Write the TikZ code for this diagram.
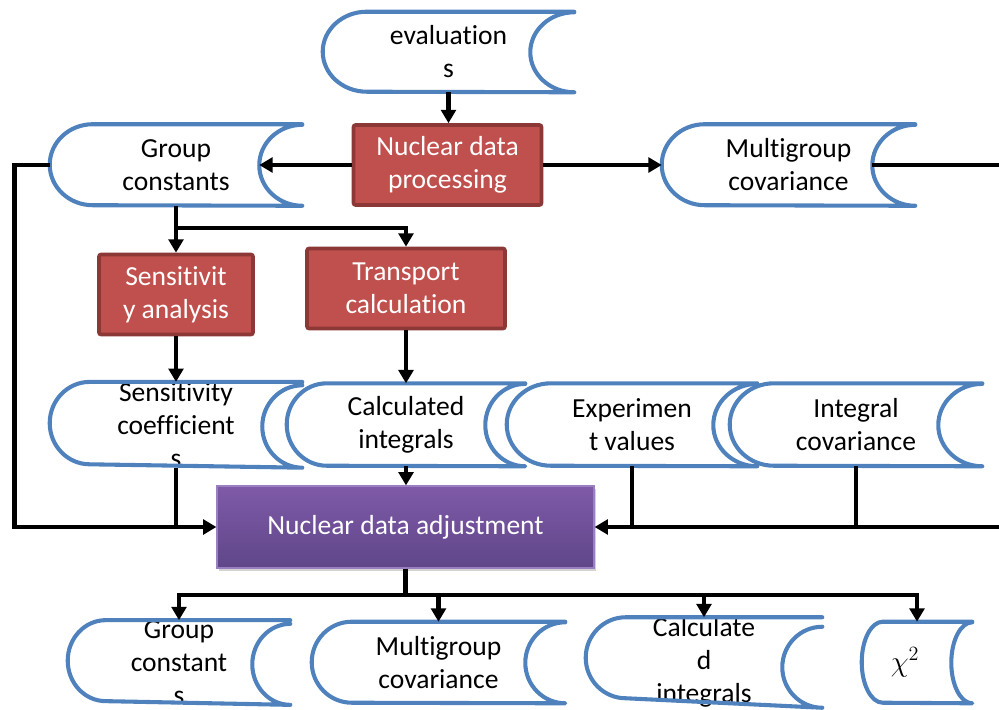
\documentclass[tikz,border=0pt]{standalone}
\usepackage{fontspec}
\setmainfont{Carlito}[Ligatures=NoCommon]
\usepackage{tikz}
\usetikzlibrary{arrows.meta,shadows}
\definecolor{hexcolor0x4f81bd}{rgb}{0.310,0.506,0.741}
\definecolor{hexcolor0xc0504d}{rgb}{0.753,0.314,0.302}
\definecolor{hexcolor0x8c3836}{rgb}{0.549,0.220,0.212}
\definecolor{hexcolor0x7f5aa8}{rgb}{0.498,0.353,0.659}
\definecolor{hexcolor0x5f4689}{rgb}{0.373,0.275,0.537}
\definecolor{hexcolor0x9a80c0}{rgb}{0.604,0.502,0.753}
\definecolor{myblack}{rgb}{0.000,0.000,0.000}
\definecolor{mywhite}{rgb}{1.000,1.000,1.000}
\tikzstyle{datastore}=[rectangle,inner sep=0pt,align=center,text=myblack]
\tikzstyle{storeline}=[draw=hexcolor0x4f81bd,line width=2.9pt,line cap=round,line join=round]
\tikzstyle{procbox}=[rectangle,fill=hexcolor0xc0504d,draw=hexcolor0x8c3836,line width=2.6pt,rounded corners=1.5pt,text=mywhite,align=center,inner sep=0pt]
\tikzstyle{adjbox}=[rectangle,top color=hexcolor0x7f5aa8,bottom color=hexcolor0x5f4689,draw=hexcolor0x9a80c0,line width=0.8pt,text=mywhite,align=center,inner sep=0pt,drop shadow={shadow xshift=0.06cm,shadow yshift=-0.08cm,opacity=0.35}]
\tikzstyle{wire}=[draw=myblack,line width=3.2pt]
\tikzstyle{flow}=[wire,-{Triangle[length=9.5pt,width=10.5pt]}]
% outline of a stored data shape: node, x radius, y radius
\newcommand{\storeoutline}[3]{%
	\draw [style=storeline] (#1.north east) -- ([xshift=#2]#1.north west)
		arc [start angle=90, delta angle=180, x radius=#2, y radius=#3]
		-- (#1.south east)
		arc [start angle=270, delta angle=-180, x radius=#2, y radius=#3];}

\begin{document}
\begin{tikzpicture}[font=\fontsize{19.6}{23.5}\selectfont]
	\useasboundingbox (0,0) rectangle (24.975,-17.725);
	\clip (0,0) rectangle (24.975,-17.725);
	%nodes
		\node [style=datastore, minimum width=6.275cm, minimum height=2.0cm] (0) at (11.2125,-1.3) {evaluation\\s};
		\node [style=procbox, minimum width=4.7cm, minimum height=2.0cm] (1) at (11.1875,-4.125) {Nuclear data\\processing};
		\node [style=datastore, minimum width=6.3cm, minimum height=2.025cm] (2) at (4.4,-4.125) {Group\\constants};
		\node [style=datastore, minimum width=6.325cm, minimum height=2.025cm] (3) at (19.7125,-4.125) {Multigroup\\covariance};
		\node [style=procbox, minimum width=3.85cm, minimum height=2.0cm] (4) at (4.4,-7.3625) {Sensitivit\\y analysis};
		\node [style=procbox, minimum width=4.95cm, minimum height=2.0cm] (5) at (10.15,-7.2125) {Transport\\calculation};
		\node [style=datastore, minimum width=6.3cm, minimum height=2.06cm] (6) at (4.4,-10.62) {Sensitivity\\coefficient\\s};
		\node [style=datastore, minimum width=5.95cm, minimum height=2.06cm] (7) at (10.15,-10.62) {Calculated\\integrals};
		\node [style=datastore, minimum width=6.25cm, minimum height=2.06cm] (8) at (15.8,-10.62) {Experimen\\t values};
		\node [style=datastore, minimum width=6.3cm, minimum height=2.06cm] (9) at (21.4,-10.62) {Integral\\covariance};
		\node [style=adjbox, minimum width=9.425cm, minimum height=2.05cm] (10) at (10.1375,-13.175) {Nuclear data adjustment};
		\node [style=datastore, minimum width=5.55cm, minimum height=2.025cm] (11) at (4.475,-16.5625) {Group\\constant\\s};
		\node [style=datastore, minimum width=6.325cm, minimum height=2.025cm] (12) at (10.9625,-16.5625) {Multigroup\\covariance};
		\node [style=datastore, minimum width=5.9cm, minimum height=2.025cm] (13) at (17.6,-16.5625) {Calculate\\d\\integrals};
		\node [style=datastore, minimum width=2.75cm, minimum height=2.025cm] (14) at (22.925,-16.5625) {$\chi^2$\hspace{0.6cm}};
		\coordinate (15) at (4.4,-5.7);
		\coordinate (16) at (10.1375,-14.875);
	%outlines
		\storeoutline{0}{1.1cm}{1.0cm}
		\storeoutline{2}{1.075cm}{1.0125cm}
		\storeoutline{3}{1.075cm}{1.0125cm}
		\storeoutline{6}{1.0cm}{1.03cm}
		\storeoutline{7}{1.0cm}{1.03cm}
		\storeoutline{8}{1.1cm}{1.03cm}
		\storeoutline{9}{1.1cm}{1.03cm}
		\storeoutline{11}{0.95cm}{1.0125cm}
		\storeoutline{12}{1.0cm}{1.0125cm}
		\storeoutline{13}{1.0cm}{1.0125cm}
		\storeoutline{14}{0.525cm}{1.0125cm}
	%edges
		\draw [style=flow] (0.south) to (0.south |- 1.north);
		\draw [style=flow] (1.west) to ([xshift=-1.075cm]2.east);
		\draw [style=flow] (1.east) to (3.west);
		\draw [style=flow] ([xshift=-1.075cm]3.east) -- ++(6,0) |- (10.east);
		\draw [style=flow] (2.west) -- ++(-0.875,0) |- (10.west);
		\draw [style=flow] (2.south) to (4.north);
		\draw [style=flow] (15) -| (5.north);
		\draw [style=flow] (4.south) to (6.north);
		\draw [style=flow] (5.south) to (7.north);
		\draw [style=wire] (6.south) to (6.south |- 10.west);
		\draw [style=flow] (7.south) to (7.south |- 10.north);
		\draw [style=wire] (8.south) to (8.south |- 10.east);
		\draw [style=wire] (9.south) to (9.south |- 10.east);
		\draw [style=wire] (10.south) to (16);
		\draw [style=flow] (16) -| (11.north);
		\draw [style=flow] (16) -| (14.north);
		\draw [style=flow] (16 -| 12.north) to (12.north);
		\draw [style=flow] (16 -| 13.north) to (13.north);
\end{tikzpicture}
\end{document}
